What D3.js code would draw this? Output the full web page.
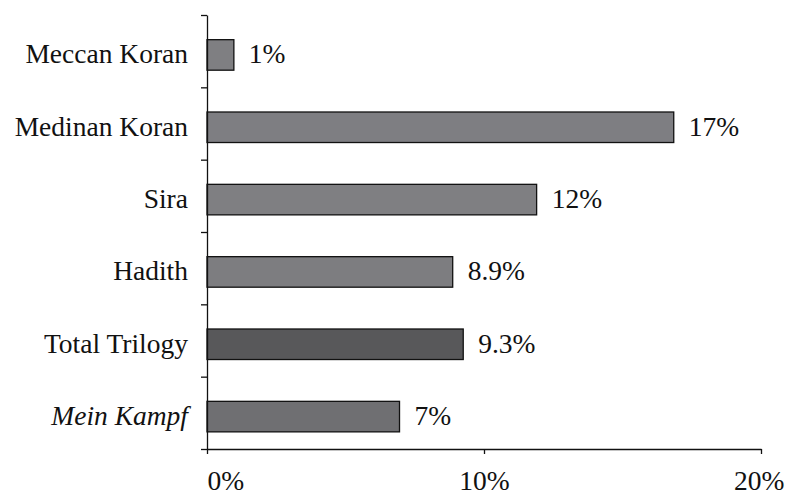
<!DOCTYPE html>
<html>
<head>
<meta charset="utf-8">
<script src="https://cdn.jsdelivr.net/npm/d3@7"></script>
<style>
  body { margin: 0; background: #fff; }
  svg text { font-family: "Liberation Serif", "Times New Roman", serif; fill: #111; }
</style>
</head>
<body>
<svg id="chart" width="785" height="498"></svg>
<script>
const categories = ['Meccan Koran', 'Medinan Koran', 'Sira', 'Hadith', 'Total Trilogy', 'Mein Kampf']
const values = [0.97, 16.85, 11.9, 8.87, 9.25, 6.95]
const valueLabels = ['1%', '17%', '12%', '8.9%', '9.3%', '7%']
const barColors = ['#7f7f82', '#7e7e82', '#7f7f82', '#7d7d80', '#58585a', '#6f6f72']
const xTicks = [0, 10, 20]

const dims = { left: 207, right: 761, top: 15, bottom: 449 }
const fontSize = 27.5

const svg = d3.select('#chart')

const x = d3.scaleLinear().domain([0, 20]).range([dims.left, dims.right])

const y = d3.scaleBand()
    .domain(categories)
    .range([dims.top, dims.bottom])
    .paddingInner(0.578)
    .paddingOuter(0.289)
    .align(0.59)

// band edges for the left axis ticks
const yEdge = d3.scaleLinear().domain([0, categories.length]).range([dims.top, dims.bottom])

const bars = svg.append('g').attr('class', 'bars')

bars.selectAll('rect')
  .data(categories)
  .enter().append('rect')
    .attr('x', x(0))
    .attr('y', d => y(d))
    .attr('width', (d, i) => x(values[i]) - x(0))
    .attr('height', y.bandwidth())
    .attr('fill', (d, i) => barColors[i])
    .attr('stroke', '#111')
    .attr('stroke-width', 1.3)

bars.selectAll('text.value')
  .data(categories)
  .enter().append('text')
    .attr('class', 'value')
    .attr('x', (d, i) => x(values[i]) + 15)
    .attr('y', d => y(d) + y.bandwidth() / 2 + 8.5)
    .attr('font-size', fontSize)
    .text((d, i) => valueLabels[i])

svg.append('g')
    .attr('class', 'cat-labels')
  .selectAll('text')
  .data(categories)
  .enter().append('text')
    .attr('x', 188)
    .attr('y', d => y(d) + y.bandwidth() / 2 + 8.5)
    .attr('text-anchor', 'end')
    .attr('font-size', fontSize)
    .attr('font-style', d => d == 'Mein Kampf' ? 'italic' : 'normal')
    .text(d => d)

// y axis: line with ticks at band boundaries
const yAxis = svg.append('g')
    .attr('transform', `translate(${dims.left},0)`)
    .call(d3.axisLeft(yEdge).tickValues(d3.range(categories.length + 1)).tickSize(6).tickFormat('').tickSizeOuter(0))
yAxis.select('.domain').attr('stroke', '#111').attr('stroke-width', 1.3)
yAxis.selectAll('.tick line').attr('stroke', '#111').attr('stroke-width', 1.3)

// x axis
const xAxis = svg.append('g')
    .attr('transform', `translate(0,${dims.bottom})`)
    .call(d3.axisBottom(x).tickValues(xTicks).tickSize(5).tickSizeOuter(0).tickFormat(d => d + '%'))
xAxis.select('.domain').attr('stroke', '#111').attr('stroke-width', 1.3)
xAxis.selectAll('.tick line').attr('stroke', '#111').attr('stroke-width', 1.3)
xAxis.selectAll('.tick text')
    .attr('y', 41)
    .attr('dy', 0)
    .attr('font-size', fontSize)
    .attr('font-family', '"Liberation Serif", serif')
    .attr('fill', '#111')
    .attr('text-anchor', (d, i) => i == 0 ? 'start' : (i == xTicks.length - 1 ? 'end' : 'middle'))
    .attr('dx', (d, i) => i == xTicks.length - 1 ? 23 : 0)
</script>
</body>
</html>
